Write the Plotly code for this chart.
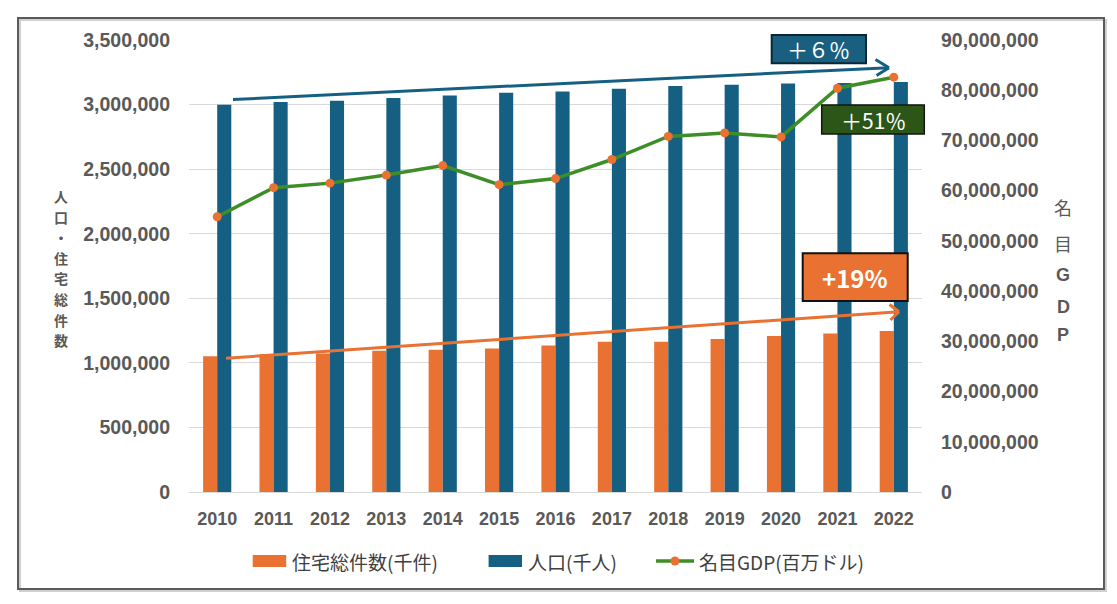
import plotly.graph_objects as go

# ---------------- data ----------------
years = ["2010", "2011", "2012", "2013", "2014", "2015", "2016",
         "2017", "2018", "2019", "2020", "2021", "2022"]
housing = [1052000, 1067000, 1073000, 1093000, 1101000, 1112000, 1135000,
           1163000, 1163000, 1184000, 1207000, 1228000, 1246000]
population = [2998000, 3019000, 3029000, 3050000, 3070000, 3091000, 3101000,
              3122000, 3143000, 3153000, 3163000, 3168000, 3174000]
gdp = [54800000, 60600000, 61500000, 63100000, 65000000, 61200000, 62400000,
       66200000, 70800000, 71500000, 70700000, 80400000, 82600000]

series_names = ["住宅総件数(千件)", "人口(千人)", "名目GDP(百万ドル)"]
left_title = "人口・住宅総件数"
right_title = "名目GDP"
badge_pop = "＋６％"
badge_gdp = "＋51％"
badge_house = "+19%"

# ---------------- style ----------------
ORANGE = "#E97132"
BLUE = "#156082"
GREEN = "#3E8E27"
DARKGREEN = "#2C5518"
GRAY = "#595959"
TXT = "#404040"

OFF = 8  # page body margin
W_WIN, H_WIN = 1117, 604
W_FIG, H_FIG = W_WIN - OFF, H_WIN - OFF
# plot area in window pixels
SL, SR, ST, SB = 189, 922, 40, 492
ML, MR, MT, MB = SL - OFF, W_WIN - SR, ST - OFF, H_WIN - SB
PW = SR - SL
PH = SB - ST


def px(x):
    return (x - SL) / PW


def py(y):
    return (SB - y) / PH


fig = go.Figure()
fig.add_trace(go.Bar(x=years, y=housing, name=series_names[0],
                     marker=dict(color=ORANGE, line=dict(width=0)),
                     showlegend=False))
fig.add_trace(go.Bar(x=years, y=population, name=series_names[1],
                     marker=dict(color=BLUE, line=dict(width=0)),
                     showlegend=False))
fig.add_trace(go.Scatter(x=years, y=gdp, name=series_names[2], yaxis="y2",
                         mode="lines+markers",
                         line=dict(color=GREEN, width=3.5),
                         marker=dict(color=ORANGE, size=9),
                         showlegend=False))

xtickfont = dict(family="Liberation Sans", size=18, color=GRAY, weight="bold")
ytickfont = dict(family="Liberation Sans", size=19.5, color=GRAY, weight="bold")

shapes = []
annotations = []

# outer chart border (with faint shadow)
shapes.append(dict(type="rect", xref="paper", yref="paper",
                   x0=px(20), x1=px(1106), y0=py(591), y1=py(20),
                   line=dict(color="#d0d0d0", width=2), layer="below"))
shapes.append(dict(type="rect", xref="paper", yref="paper",
                   x0=px(18), x1=px(1104), y0=py(589), y1=py(18),
                   line=dict(color="#5a5a5a", width=2), layer="below"))


def seg(x0, y0, x1, y1, color, width):
    shapes.append(dict(type="line", xref="paper", yref="paper",
                       x0=px(x0), y0=py(y0), x1=px(x1), y1=py(y1),
                       line=dict(color=color, width=width)))


# blue arrow (population)
seg(233, 99.5, 889, 67.7, BLUE, 3)
seg(875.5, 59.5, 889, 67.7, BLUE, 3)
seg(876.5, 75.5, 889, 67.7, BLUE, 3)
# orange arrow (housing)
seg(226, 358.3, 899, 311.7, ORANGE, 3)
seg(889.5, 304.5, 899, 311.7, ORANGE, 3)
seg(890.5, 320, 899, 311.7, ORANGE, 3)


def badge(x0, y0, x1, y1, fill, border, bw, text, size, weight="normal"):
    shapes.append(dict(type="rect", xref="paper", yref="paper",
                       x0=px(x0), x1=px(x1), y0=py(y1), y1=py(y0),
                       fillcolor=fill, line=dict(color=border, width=bw)))
    annotations.append(dict(xref="paper", yref="paper",
                            x=px((x0 + x1) / 2), y=py((y0 + y1) / 2),
                            text=text, showarrow=False,
                            xanchor="center", yanchor="middle",
                            font=dict(family="Noto Sans CJK JP", size=size,
                                      color="white", weight=weight)))


badge(771.7, 35, 866, 63.3, "#185F80", "#0c2633", 2, badge_pop, 21)
badge(821.7, 105, 924.3, 134, DARKGREEN, "#151515", 1.5, badge_gdp, 21)
badge(802.7, 253.3, 907.7, 301, ORANGE, "#111111", 2, badge_house, 24, "bold")

# stacked (vertical) axis titles, one character per line
for i, ch in enumerate(left_title):
    annotations.append(dict(xref="paper", yref="paper", x=px(61),
                            y=py(196 + 20.6 * i), text=ch, showarrow=False,
                            xanchor="center", yanchor="middle",
                            borderpad=0,
                            font=dict(family="Noto Sans CJK JP", size=14,
                                      color=GRAY, weight="bold")))
right_y = [206.7, 243, 275, 306.7, 335]
for ch, yy in zip(right_title, right_y):
    cjk = ord(ch) > 255
    annotations.append(dict(xref="paper", yref="paper", x=px(1063.3),
                            y=py(yy), text=ch, showarrow=False,
                            xanchor="center", yanchor="middle",
                            font=dict(family="Noto Sans CJK JP" if cjk else "Liberation Sans",
                                      size=18, color=GRAY,
                                      weight="normal" if cjk else "bold")))

# custom legend
LY = 561
shapes.append(dict(type="rect", xref="paper", yref="paper",
                   x0=px(252.7), x1=px(286.2), y0=py(567), y1=py(555),
                   fillcolor=ORANGE, line=dict(width=0)))
shapes.append(dict(type="rect", xref="paper", yref="paper",
                   x0=px(488.6), x1=px(522), y0=py(567), y1=py(555),
                   fillcolor=BLUE, line=dict(width=0)))
shapes.append(dict(type="line", xref="paper", yref="paper",
                   x0=px(656), x1=px(694), y0=py(LY), y1=py(LY),
                   line=dict(color=GREEN, width=3.5)))
shapes.append(dict(type="circle", xref="paper", yref="paper",
                   x0=px(670.5), x1=px(679.5), y0=py(565.5), y1=py(556.5),
                   fillcolor=ORANGE, line=dict(width=0)))
for name, lx in zip(series_names, [289.6, 525.5, 696.7]):
    annotations.append(dict(xref="paper", yref="paper", x=px(lx), y=py(LY),
                            text=name, showarrow=False,
                            xanchor="left", yanchor="middle",
                            font=dict(family="Noto Sans CJK JP", size=19,
                                      color=TXT)))

fig.update_layout(
    width=W_FIG, height=H_FIG,
    margin=dict(l=ML, r=MR, t=MT, b=MB),
    paper_bgcolor="white", plot_bgcolor="white",
    barmode="group", bargap=0.5, bargroupgap=0,
    xaxis=dict(type="category", range=[-0.5, len(years) - 0.5],
               showgrid=False, showline=False,
               zeroline=False, tickfont=xtickfont, ticks="",
               ticklabelstandoff=14),
    yaxis=dict(range=[0, 3500000], dtick=500000, tickformat=",",
               showgrid=True, gridcolor="#d9d9d9", gridwidth=1,
               zeroline=True, zerolinecolor="#d9d9d9", zerolinewidth=1,
               showline=False, tickfont=ytickfont, ticks="",
               ticklabelstandoff=18),
    yaxis2=dict(range=[0, 90000000], dtick=10000000, tickformat=",",
                overlaying="y", side="right", showgrid=False,
                zeroline=False, showline=False, tickfont=ytickfont,
                ticks="", ticklabelstandoff=18),
    shapes=shapes, annotations=annotations,
    showlegend=False,
)

fig.write_html("out.html")
